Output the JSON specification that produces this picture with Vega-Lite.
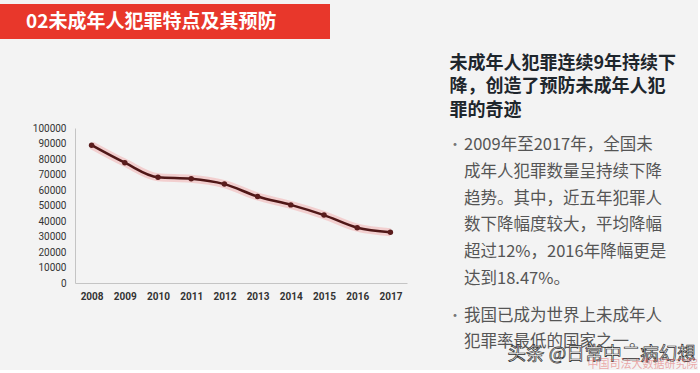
{
  "$schema": "https://vega.github.io/schema/vega-lite/v6.json",
  "background": "#f3f3f3",
  "padding": {"left": 0, "top": 4, "right": 0, "bottom": 0},
  "config": {"view": {"stroke": null}, "font": "Noto Sans CJK SC"},
  "spacing": 15,
  "vconcat": [
    {
      "width": 330,
      "height": 35,
      "view": {"fill": "#e8372b", "stroke": null},
      "data": {"values": [{"label": "02未成年人犯罪特点及其预防"}]},
      "mark": {"type": "text", "align": "left", "dx": -139, "fontSize": 19, "fontWeight": "bold", "color": "#ffffff", "font": "Noto Sans CJK SC"},
      "encoding": {"text": {"field": "label"}}
    },
    {
      "spacing": 41,
      "hconcat": [
        {
          "spacing": 0,
          "hconcat": [
            {
              "width": 1,
              "height": 155,
              "data": {"values": []},
              "mark": "point",
              "encoding": {}
            },
            {
              "width": 332,
              "height": 155,
              "data": {"values": [
                {"year": "2008", "count": 88900},
                {"year": "2009", "count": 77600},
                {"year": "2010", "count": 68200},
                {"year": "2011", "count": 67300},
                {"year": "2012", "count": 63800},
                {"year": "2013", "count": 55800},
                {"year": "2014", "count": 50400},
                {"year": "2015", "count": 43800},
                {"year": "2016", "count": 35700},
                {"year": "2017", "count": 32800}
              ]},
              "encoding": {
                "x": {"field": "year", "type": "ordinal", "axis": {"title": null, "labelAngle": 0, "ticks": false, "grid": false, "domainColor": "#c4c4c4", "labelFont": "Roboto", "labelFontSize": 10, "labelFontWeight": "bold", "labelColor": "#333333", "labelPadding": 8}},
                "y": {"field": "count", "type": "quantitative", "scale": {"domain": [0, 100000]}, "axis": {"title": null, "values": [0, 10000, 20000, 30000, 40000, 50000, 60000, 70000, 80000, 90000, 100000], "format": "d", "ticks": false, "grid": false, "domainColor": "#c4c4c4", "labelFont": "Roboto", "labelFontSize": 10, "labelColor": "#333333", "labelPadding": 9, "minExtent": 74}}
              },
              "layer": [
                {"mark": {"type": "line", "interpolate": "monotone", "color": "#f05050", "strokeWidth": 8, "opacity": 0.22}},
                {"mark": {"type": "line", "interpolate": "monotone", "color": "#4f1717", "strokeWidth": 2.5}},
                {"mark": {"type": "point", "filled": true, "color": "#5a1c1c", "size": 30, "opacity": 1}}
              ]
            }
          ]
        },
        {
          "width": 1,
          "height": 220,
          "data": {"values": [
            {"block": "title", "line": 0, "text": "未成年人犯罪连续9年持续下"},
            {"block": "title", "line": 1, "text": "降，创造了预防未成年人犯"},
            {"block": "title", "line": 2, "text": "罪的奇迹"},
            {"block": "b1", "line": 0, "text": "2009年至2017年，全国未"},
            {"block": "b1", "line": 1, "text": "成年人犯罪数量呈持续下降"},
            {"block": "b1", "line": 2, "text": "趋势。其中，近五年犯罪人"},
            {"block": "b1", "line": 3, "text": "数下降幅度较大，平均降幅"},
            {"block": "b1", "line": 4, "text": "超过12%，2016年降幅更是"},
            {"block": "b1", "line": 5, "text": "达到18.47%。"},
            {"block": "b2", "line": 0, "text": "我国已成为世界上未成年人"},
            {"block": "b2", "line": 1, "text": "犯罪率最低的国家之一。"},
            {"block": "wm", "line": 0, "text": "头条 @日常中二病幻想"},
            {"block": "wm2", "line": 0, "text": "中国司法大数据研究院"}
          ]},
          "resolve": {"scale": {"y": "independent"}},
          "layer": [
            {
              "transform": [{"filter": "datum.block === 'title'"}],
              "mark": {"type": "text", "align": "left", "baseline": "middle", "dx": -1, "fontSize": 18, "fontWeight": "bold", "color": "#1e262c"},
              "encoding": {
                "y": {"field": "line", "type": "quantitative", "scale": {"domain": [2.747, 12.189], "reverse": true, "nice": false, "zero": false}, "axis": null},
                "text": {"field": "text"}
              }
            },
            {
              "transform": [{"filter": "datum.block === 'b1'"}],
              "mark": {"type": "text", "align": "left", "baseline": "middle", "dx": 13.5, "fontSize": 16.5, "color": "#555555"},
              "encoding": {
                "y": {"field": "line", "type": "quantitative", "scale": {"domain": [-0.634, 7.575], "reverse": true, "nice": false, "zero": false}, "axis": null},
                "text": {"field": "text"}
              }
            },
            {
              "transform": [{"filter": "datum.block === 'b1' && datum.line === 0"}],
              "mark": {"type": "text", "text": "•", "align": "center", "baseline": "middle", "dx": 4.5, "fontSize": 14, "color": "#777777"},
              "encoding": {
                "y": {"field": "line", "type": "quantitative", "scale": {"domain": [-0.634, 7.575], "reverse": true, "nice": false, "zero": false}, "axis": null}
              }
            },
            {
              "transform": [{"filter": "datum.block === 'b2'"}],
              "mark": {"type": "text", "align": "left", "baseline": "middle", "dx": 13.5, "fontSize": 16.5, "color": "#555555"},
              "encoding": {
                "y": {"field": "line", "type": "quantitative", "scale": {"domain": [-7.231, 1.231], "reverse": true, "nice": false, "zero": false}, "axis": null},
                "text": {"field": "text"}
              }
            },
            {
              "transform": [{"filter": "datum.block === 'b2' && datum.line === 0"}],
              "mark": {"type": "text", "text": "•", "align": "center", "baseline": "middle", "dx": 4.5, "fontSize": 14, "color": "#777777"},
              "encoding": {
                "y": {"field": "line", "type": "quantitative", "scale": {"domain": [-7.231, 1.231], "reverse": true, "nice": false, "zero": false}, "axis": null}
              }
            },
            {
              "transform": [{"filter": "datum.block === 'wm'"}],
              "mark": {"type": "text", "align": "left", "baseline": "middle", "dx": 57, "fontSize": 18.5, "color": "#ffffff", "stroke": "#2a2a2a", "strokeWidth": 0.7},
              "encoding": {
                "y": {"field": "line", "type": "quantitative", "scale": {"domain": [-1.026, -0.026], "reverse": true, "nice": false, "zero": false}, "axis": null},
                "text": {"field": "text"}
              }
            },
            {
              "transform": [{"filter": "datum.block === 'wm2'"}],
              "mark": {"type": "text", "align": "left", "baseline": "middle", "dx": 137, "fontSize": 11, "color": "#e05050", "opacity": 0.45},
              "encoding": {
                "y": {"field": "line", "type": "quantitative", "scale": {"domain": [-1.075, -0.075], "reverse": true, "nice": false, "zero": false}, "axis": null},
                "text": {"field": "text"}
              }
            }
          ]
        }
      ]
    }
  ]
}
